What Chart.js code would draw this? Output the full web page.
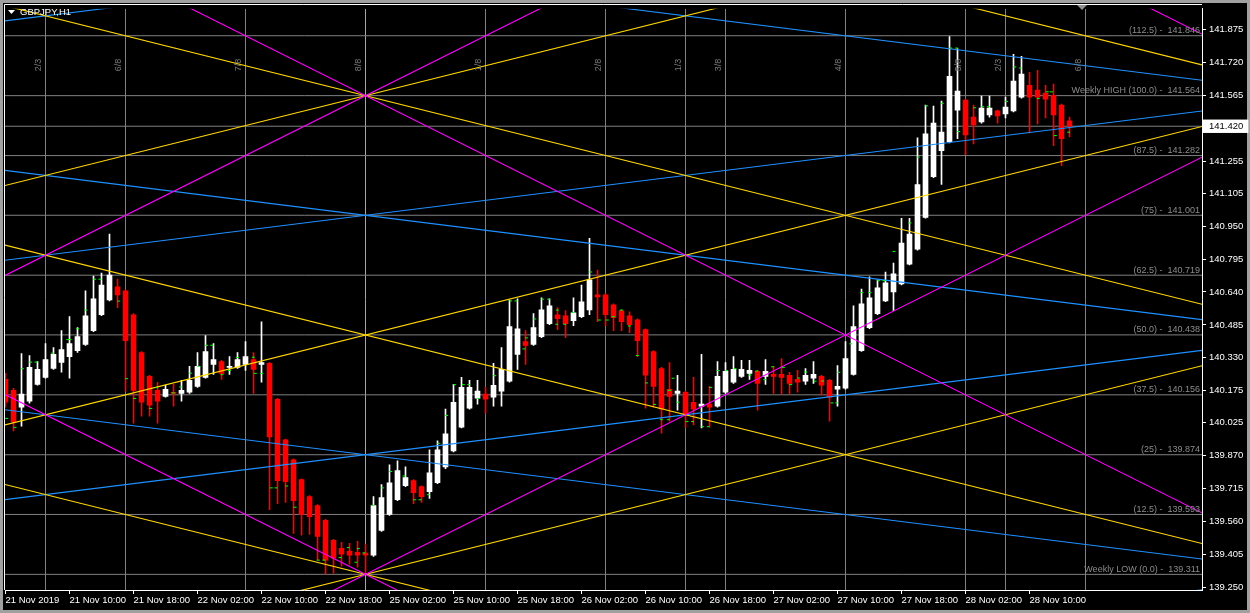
<!DOCTYPE html>
<html>
<head>
<meta charset="utf-8">
<title>GBPJPY,H1</title>
<script src="https://cdn.jsdelivr.net/npm/chart.js@4.4.1/dist/chart.umd.min.js"></script>
<style>
    html, body { margin: 0; padding: 0; background: #000; overflow: hidden; }
    #gbpjpy_chart { display: block; }
</style>
</head>
<body>
<canvas id="gbpjpy_chart" width="1250" height="613"></canvas>
<script>
// hourly bars, 21 Nov 02:00 -> 28 Nov 15:00 (bar index 0..133)
const opens = [
    140.229, 140.177, 140.098, 140.126, 140.205, 140.238, 140.280, 140.308, 140.336, 140.364,
    140.393, 140.458, 140.533, 140.603, 140.664, 140.645, 140.533, 140.355, 140.243, 140.177,
    140.149, 140.168, 140.163, 140.168, 140.196, 140.238, 140.299, 140.313, 140.285, 140.285,
    140.299, 140.322, 140.299, 140.304, 140.135, 139.944, 139.850, 139.757, 139.677, 139.635,
    139.565, 139.471, 139.434, 139.420, 139.415, 139.411, 139.401, 139.518, 139.593, 139.663,
    139.728, 139.752, 139.724, 139.700, 139.742, 139.817, 139.892, 140.004, 140.093, 140.140,
    140.159, 140.145, 140.173, 140.220, 140.346, 140.407, 140.393, 140.430, 140.491, 140.533,
    140.528, 140.505, 140.524, 140.556, 140.626, 140.626, 140.580, 140.552, 140.528, 140.509,
    140.463, 140.360, 140.280, 140.182, 140.163, 140.168, 140.121, 140.103, 140.112, 140.103,
    140.168, 140.215, 140.243, 140.257, 140.266, 140.243, 140.252, 140.252, 140.248, 140.229,
    140.220, 140.234, 140.243, 140.224, 140.182, 140.187, 140.252, 140.364, 140.472, 140.538,
    140.598, 140.640, 140.678, 140.771, 140.842, 140.991, 141.183, 141.305, 141.347, 141.496,
    141.543, 141.463, 141.440, 141.473, 141.492, 141.478, 141.492, 141.557, 141.613, 141.590,
    141.576, 141.566, 141.520, 141.445
];
const highs = [
    140.257, 140.187, 140.350, 140.341, 140.313, 140.397, 140.378, 140.458, 140.524, 140.472,
    140.645, 140.715, 140.729, 140.912, 140.701, 140.650, 140.538, 140.360, 140.248, 140.215,
    140.201, 140.205, 140.224, 140.290, 140.355, 140.435, 140.397, 140.318, 140.336, 140.355,
    140.407, 140.355, 140.500, 140.308, 140.140, 139.948, 139.855, 139.761, 139.682, 139.640,
    139.570, 139.476, 139.462, 139.457, 139.466, 139.453, 139.677, 139.733, 139.827, 139.845,
    139.817, 139.757, 139.728, 139.897, 139.939, 140.089, 140.205, 140.238, 140.224, 140.224,
    140.191, 140.304, 140.378, 140.603, 140.608, 140.458, 140.538, 140.612, 140.608, 140.566,
    140.552, 140.612, 140.673, 140.893, 140.743, 140.631, 140.584, 140.556, 140.547, 140.514,
    140.467, 140.364, 140.285, 140.308, 140.248, 140.173, 140.238, 140.346, 140.196, 140.313,
    140.308, 140.336, 140.318, 140.318, 140.271, 140.322, 140.290, 140.327, 140.262, 140.271,
    140.280, 140.313, 140.248, 140.229, 140.294, 140.407, 140.575, 140.654, 140.711, 140.697,
    140.734, 140.776, 140.987, 140.987, 141.365, 141.520, 141.515, 141.538, 141.842, 141.786,
    141.548, 141.520, 141.562, 141.562, 141.496, 141.557, 141.758, 141.749, 141.674, 141.683,
    141.613, 141.618, 141.524, 141.463
];
const lows = [
    140.098, 139.986, 140.009, 140.117, 140.201, 140.234, 140.276, 140.262, 140.234, 140.355,
    140.388, 140.453, 140.528, 140.598, 140.566, 140.173, 140.023, 140.056, 140.056, 140.023,
    140.145, 140.103, 140.126, 140.163, 140.191, 140.234, 140.252, 140.229, 140.252, 140.280,
    140.271, 140.163, 140.215, 139.616, 139.644, 139.649, 139.504, 139.495, 139.499, 139.378,
    139.312, 139.317, 139.350, 139.359, 139.345, 139.311, 139.396, 139.513, 139.588, 139.658,
    139.724, 139.644, 139.649, 139.668, 139.738, 139.808, 139.887, 140.000, 140.089, 140.112,
    140.070, 140.103, 140.103, 140.215, 140.276, 140.299, 140.388, 140.425, 140.486, 140.463,
    140.425, 140.481, 140.519, 140.533, 140.500, 140.481, 140.458, 140.458, 140.449, 140.336,
    140.093, 140.098, 139.976, 140.032, 140.084, 140.004, 140.014, 140.000, 140.004, 140.098,
    140.163, 140.210, 140.238, 140.229, 140.084, 140.205, 140.163, 140.159, 140.159, 140.168,
    140.205, 140.210, 140.154, 140.032, 140.103, 140.182, 140.248, 140.360, 140.467, 140.533,
    140.594, 140.552, 140.673, 140.767, 140.837, 140.987, 141.178, 141.146, 141.342, 141.361,
    141.286, 141.337, 141.435, 141.463, 141.435, 141.459, 141.487, 141.552, 141.389, 141.431,
    141.459, 141.328, 141.234, 141.370
];
const closes = [
    140.121, 140.028, 140.159, 140.285, 140.276, 140.322, 140.346, 140.369, 140.397, 140.430,
    140.528, 140.608, 140.673, 140.720, 140.626, 140.411, 140.177, 140.121, 140.107, 140.126,
    140.182, 140.163, 140.177, 140.224, 140.290, 140.360, 140.322, 140.257, 140.290, 140.322,
    140.336, 140.276, 140.308, 139.958, 139.752, 139.747, 139.658, 139.593, 139.583, 139.490,
    139.378, 139.387, 139.406, 139.401, 139.401, 139.401, 139.635, 139.672, 139.742, 139.799,
    139.766, 139.696, 139.677, 139.789, 139.897, 139.972, 140.121, 140.191, 140.191, 140.173,
    140.135, 140.201, 140.276, 140.477, 140.467, 140.388, 140.472, 140.556, 140.575, 140.514,
    140.491, 140.542, 140.594, 140.697, 140.617, 140.533, 140.519, 140.500, 140.486, 140.411,
    140.248, 140.196, 140.089, 140.149, 140.173, 140.061, 140.089, 140.112, 140.098, 140.243,
    140.266, 140.276, 140.276, 140.271, 140.210, 140.266, 140.243, 140.238, 140.210, 140.215,
    140.248, 140.252, 140.201, 140.145, 140.196, 140.327, 140.477, 140.584, 140.612, 140.659,
    140.683, 140.725, 140.870, 140.912, 141.146, 141.384, 141.435, 141.393, 141.655, 141.585,
    141.379, 141.426, 141.506, 141.506, 141.468, 141.510, 141.632, 141.665, 141.557, 141.557,
    141.548, 141.473, 141.361, 141.420
];

// small green indicator dashes (bar position, price)
const dashIdx = [
    0.15, 1.19, 2.10, 3.15, 3.81, 5.85, 7.78, 8.06, 9.03, 10.06, 11.15, 11.81, 14.15, 15.15, 16.15,
    18.15, 18.90, 20.98, 21.90, 23.15, 24.15, 25.15, 25.78, 27.06, 27.98, 28.98, 30.98, 31.23, 32.03,
    33.23, 33.81, 35.15, 36.19, 39.10, 39.81, 41.81, 42.85, 43.81, 44.10, 44.81, 45.90, 47.15, 48.15,
    49.81, 51.15, 51.81, 52.85, 54.15, 55.15, 56.15, 57.23, 57.90, 59.15, 61.15, 63.15, 63.81, 64.81,
    65.15, 66.15, 67.15, 67.90, 68.90, 68.98, 69.90, 70.90, 73.15, 74.23, 75.23, 75.98, 76.98, 77.98,
    78.98, 80.15, 81.15, 81.98, 82.85, 82.98, 83.44, 84.06, 85.19, 85.88, 87.15, 87.85, 88.15, 89.10,
    90.15, 91.19, 93.06, 93.90, 94.90, 95.90, 97.23, 98.15, 99.15, 100.03, 101.19, 102.15, 103.31,
    103.90, 104.15, 105.65, 107.06, 108.06, 109.15, 109.81, 111.06, 113.06, 114.10, 115.15, 117.10,
    118.15, 118.90, 119.15, 121.15, 122.15, 122.85, 125.15, 126.15, 126.85, 129.10, 130.23, 130.73,
    131.23, 132.90
];
const dashPrice = [
    140.045, 140.003, 140.279, 140.310, 140.310, 140.352, 140.416, 140.416, 140.467, 140.555, 140.700,
    140.700, 140.597, 140.232, 140.139, 140.092, 140.190, 140.165, 140.193, 140.258, 140.290, 140.389,
    140.389, 140.251, 140.271, 140.332, 140.333, 140.257, 140.257, 139.718, 139.718, 139.727, 139.627,
    139.378, 139.378, 139.390, 139.437, 139.368, 139.432, 139.412, 139.636, 139.718, 139.795, 139.774,
    139.662, 139.662, 139.686, 139.928, 140.059, 140.204, 140.204, 140.204, 140.139, 140.246, 140.598,
    140.598, 140.372, 140.424, 140.513, 140.606, 140.606, 140.488, 140.555, 140.488, 140.544, 140.734,
    140.508, 140.508, 140.524, 140.555, 140.480, 140.341, 140.212, 140.111, 140.039, 140.039, 140.177,
    140.234, 140.121, 140.030, 140.030, 140.006, 140.006, 140.191, 140.270, 140.270, 140.279, 140.249,
    140.268, 140.227, 140.288, 140.285, 140.204, 140.235, 140.263, 140.220, 140.221, 140.118, 140.118,
    140.262, 140.396, 140.637, 140.637, 140.693, 140.693, 140.831, 140.965, 141.275, 141.516, 141.528,
    141.788, 141.788, 141.395, 141.507, 141.512, 141.512, 141.537, 141.699, 141.694, 141.551, 141.582,
    141.582, 141.376, 141.392
];

// axis labels
const timeTickIdx = [0, 8, 16, 24, 32, 40, 48, 56, 64, 72, 80, 88, 96, 104, 112, 120, 128];
const timeLabels = ['21 Nov 2019', '21 Nov 10:00', '21 Nov 18:00', '22 Nov 02:00', '22 Nov 10:00',
    '22 Nov 18:00', '25 Nov 02:00', '25 Nov 10:00', '25 Nov 18:00', '26 Nov 02:00', '26 Nov 10:00',
    '26 Nov 18:00', '27 Nov 02:00', '27 Nov 10:00', '27 Nov 18:00', '28 Nov 02:00', '28 Nov 10:00'];
const priceTicks = [141.875, 141.720, 141.565, 141.420, 141.255, 141.105, 140.950, 140.795, 140.640,
    140.485, 140.330, 140.175, 140.025, 139.870, 139.715, 139.560, 139.405, 139.250];
const lastPrice = 141.420;

// weekly octave levels
const levelPrices = [141.846, 141.564, 141.282, 141.001, 140.719, 140.438, 140.156, 139.874, 139.593, 139.311];
const levelLabels = ['(112.5) -  141.846', 'Weekly HIGH (100.0) -  141.564', '(87.5) -  141.282',
    '(75) -  141.001', '(62.5) -  140.719', '(50.0) -  140.438', '(37.5) -  140.156',
    '(25) -  139.874', '(12.5) -  139.593', 'Weekly LOW (0.0) -  139.311'];

// time octave lines (bar index) and their captions
const timeLineIdx = [5, 15, 30, 45, 60, 75, 85, 90, 105, 120, 125, 135];
const timeLineLabels = ['2/3', '6/8', '7/8', '8/8', '1/8', '2/8', '1/3', '3/8', '4/8', '5/8', '2/3', '6/8'];

// gann grid: anchored at the 8/8 bar, one octave step per N bars
const weekLow = 139.311;
const weekHigh = 141.564;
const anchorIdx = 45;
const fanColors = ['#ff00ff', '#ffd700', '#1e90ff'];
const fanBarsPerStep = [15, 30, 60];
const fanBaseSteps = [[-8, 0, 8, 16], [-4, 0, 4, 8, 12, 16], [-2, 2, 6, 10]];

const X_MIN = -0.0625;
const X_MAX = 149.5625;
const Y_MIN = 139.2374;
const Y_MAX = 141.9732;
const FONT = '"Liberation Sans", Arial, sans-serif';
const GRAY = '#808080';

const step = (weekHigh - weekLow) / 8;
const isBull = opens.map((o, i) => closes[i] >= o);
const candleColors = isBull.map(b => b ? '#ffffff' : '#ff0000');

const datasets = [];

// colored gann lines, both directions from each base
fanColors.forEach((color, f) => {
    fanBaseSteps[f].forEach(k => {
        const base = weekLow + k * step;
        [1, -1].forEach(dir => {
            const slope = dir * step / fanBarsPerStep[f];
            datasets.push({
                type: 'line',
                data: [
                    { x: X_MIN, y: base + slope * (X_MIN - anchorIdx) },
                    { x: X_MAX, y: base + slope * (X_MAX - anchorIdx) }
                ],
                borderColor: color,
                borderWidth: 1.1,
                pointRadius: 0,
                fill: false,
                order: 1
            });
        });
    });
});

// green dashes
datasets.push({
    type: 'scatter',
    data: dashIdx.map((x, i) => ({ x: x, y: dashPrice[i] })),
    pointStyle: 'line',
    pointRadius: 1.5,
    borderColor: '#00ff00',
    backgroundColor: '#00ff00',
    borderWidth: 1,
    order: 0
});

// candles: wicks then bodies
datasets.push({
    type: 'bar',
    data: opens.map((o, i) => ({ x: i, y: [lows[i], highs[i]] })),
    backgroundColor: candleColors,
    borderWidth: 0,
    barThickness: 1,
    grouped: false,
    order: 6
});
datasets.push({
    type: 'bar',
    data: opens.map((o, i) => ({ x: i, y: [o, closes[i]] })),
    backgroundColor: candleColors,
    borderWidth: 0,
    barThickness: 5,
    grouped: false,
    order: 5
});

// horizontal levels + bid line
levelPrices.concat([lastPrice]).forEach(p => {
    datasets.push({
        type: 'line',
        data: [{ x: X_MIN, y: p }, { x: X_MAX, y: p }],
        borderColor: GRAY,
        borderWidth: 1,
        pointRadius: 0,
        order: 10
    });
});

// vertical time lines
timeLineIdx.forEach((t, i) => {
    datasets.push({
        type: 'line',
        data: [{ x: t, y: Y_MIN }, { x: t, y: Y_MAX }],
        borderColor: timeLineLabels[i] === '8/8' ? '#daa520' : GRAY,
        borderWidth: 1,
        pointRadius: 0,
        order: 10
    });
});

const terminalLook = {
    id: 'terminalLook',
    beforeDraw(chart) {
        const c = chart.ctx;
        c.save();
        c.fillStyle = '#a0a0a0';
        c.fillRect(0, 0, chart.width, chart.height);
        c.fillStyle = '#000000';
        c.fillRect(3, 3, chart.width - 6, chart.height - 6);
        c.restore();
    },
    afterDraw(chart) {
        const c = chart.ctx;
        const area = chart.chartArea;
        const xs = chart.scales.x;
        const ys = chart.scales.y;
        c.save();

        // frame left / top
        c.strokeStyle = '#ffffff';
        c.lineWidth = 1;
        c.beginPath();
        c.moveTo(4.5, area.bottom);
        c.lineTo(4.5, 4.5);
        c.lineTo(area.right, 4.5);
        c.stroke();

        // level captions
        c.font = '9px ' + FONT;
        c.fillStyle = '#8c8c8c';
        c.textAlign = 'right';
        c.textBaseline = 'alphabetic';
        levelPrices.forEach((p, i) => {
            c.fillText(levelLabels[i], area.right - 2, ys.getPixelForValue(p) - 2.5);
        });

        // time captions, rotated
        c.textAlign = 'center';
        c.textBaseline = 'middle';
        c.fillStyle = '#7a7a7a';
        timeLineIdx.forEach((t, i) => {
            c.save();
            c.translate(xs.getPixelForValue(t) - 7, 65);
            c.rotate(-Math.PI / 2);
            c.fillText(timeLineLabels[i], 0, 0);
            c.restore();
        });

        // shift marker
        c.fillStyle = '#909090';
        c.beginPath();
        c.moveTo(1077, 5);
        c.lineTo(1087, 5);
        c.lineTo(1082, 10);
        c.closePath();
        c.fill();

        // symbol caption
        c.fillStyle = '#ffffff';
        c.beginPath();
        c.moveTo(8, 10);
        c.lineTo(15, 10);
        c.lineTo(11.5, 14);
        c.closePath();
        c.fill();
        c.font = '9.5px ' + FONT;
        c.textAlign = 'left';
        c.fillText('GBPJPY,H1', 20, 12.5);

        c.restore();
    }
};

const ctx = document.getElementById('gbpjpy_chart').getContext('2d');

new Chart(ctx, {
    type: 'bar',
    data: { datasets: datasets },
    options: {
        responsive: false,
        animation: false,
        events: [],
        layout: { padding: { left: 5, top: 5, right: 0, bottom: 0 } },
        scales: {
            x: {
                type: 'linear',
                position: 'bottom',
                offset: false,
                min: X_MIN,
                max: X_MAX,
                afterBuildTicks: s => { s.ticks = timeTickIdx.map(v => ({ value: v })); },
                afterFit: s => { s.height = 23; },
                grid: { drawOnChartArea: false, drawTicks: true, tickLength: 4, color: '#ffffff', offset: false },
                border: { color: '#ffffff' },
                ticks: {
                    autoSkip: false,
                    maxRotation: 0,
                    align: 'start',
                    padding: 1,
                    color: '#ffffff',
                    font: { family: FONT, size: 9.5 },
                    callback: v => timeLabels[timeTickIdx.indexOf(v)]
                }
            },
            y: {
                type: 'linear',
                position: 'right',
                min: Y_MIN,
                max: Y_MAX,
                afterBuildTicks: s => { s.ticks = priceTicks.map(v => ({ value: v })); },
                afterFit: s => { s.width = 48; },
                grid: { drawOnChartArea: false, drawTicks: true, tickLength: 4, color: '#ffffff' },
                border: { color: '#ffffff' },
                ticks: {
                    padding: 3,
                    font: { family: FONT, size: 9.5 },
                    color: c => (c.tick && c.tick.value === lastPrice) ? '#000000' : '#ffffff',
                    showLabelBackdrop: c => !!(c.tick && c.tick.value === lastPrice),
                    backdropColor: '#ffffff',
                    backdropPadding: { left: 6, right: 5, top: 1, bottom: 1 },
                    callback: v => v.toFixed(3)
                }
            }
        },
        plugins: {
            legend: { display: false },
            tooltip: { enabled: false }
        }
    },
    plugins: [terminalLook]
});
</script>
</body>
</html>
